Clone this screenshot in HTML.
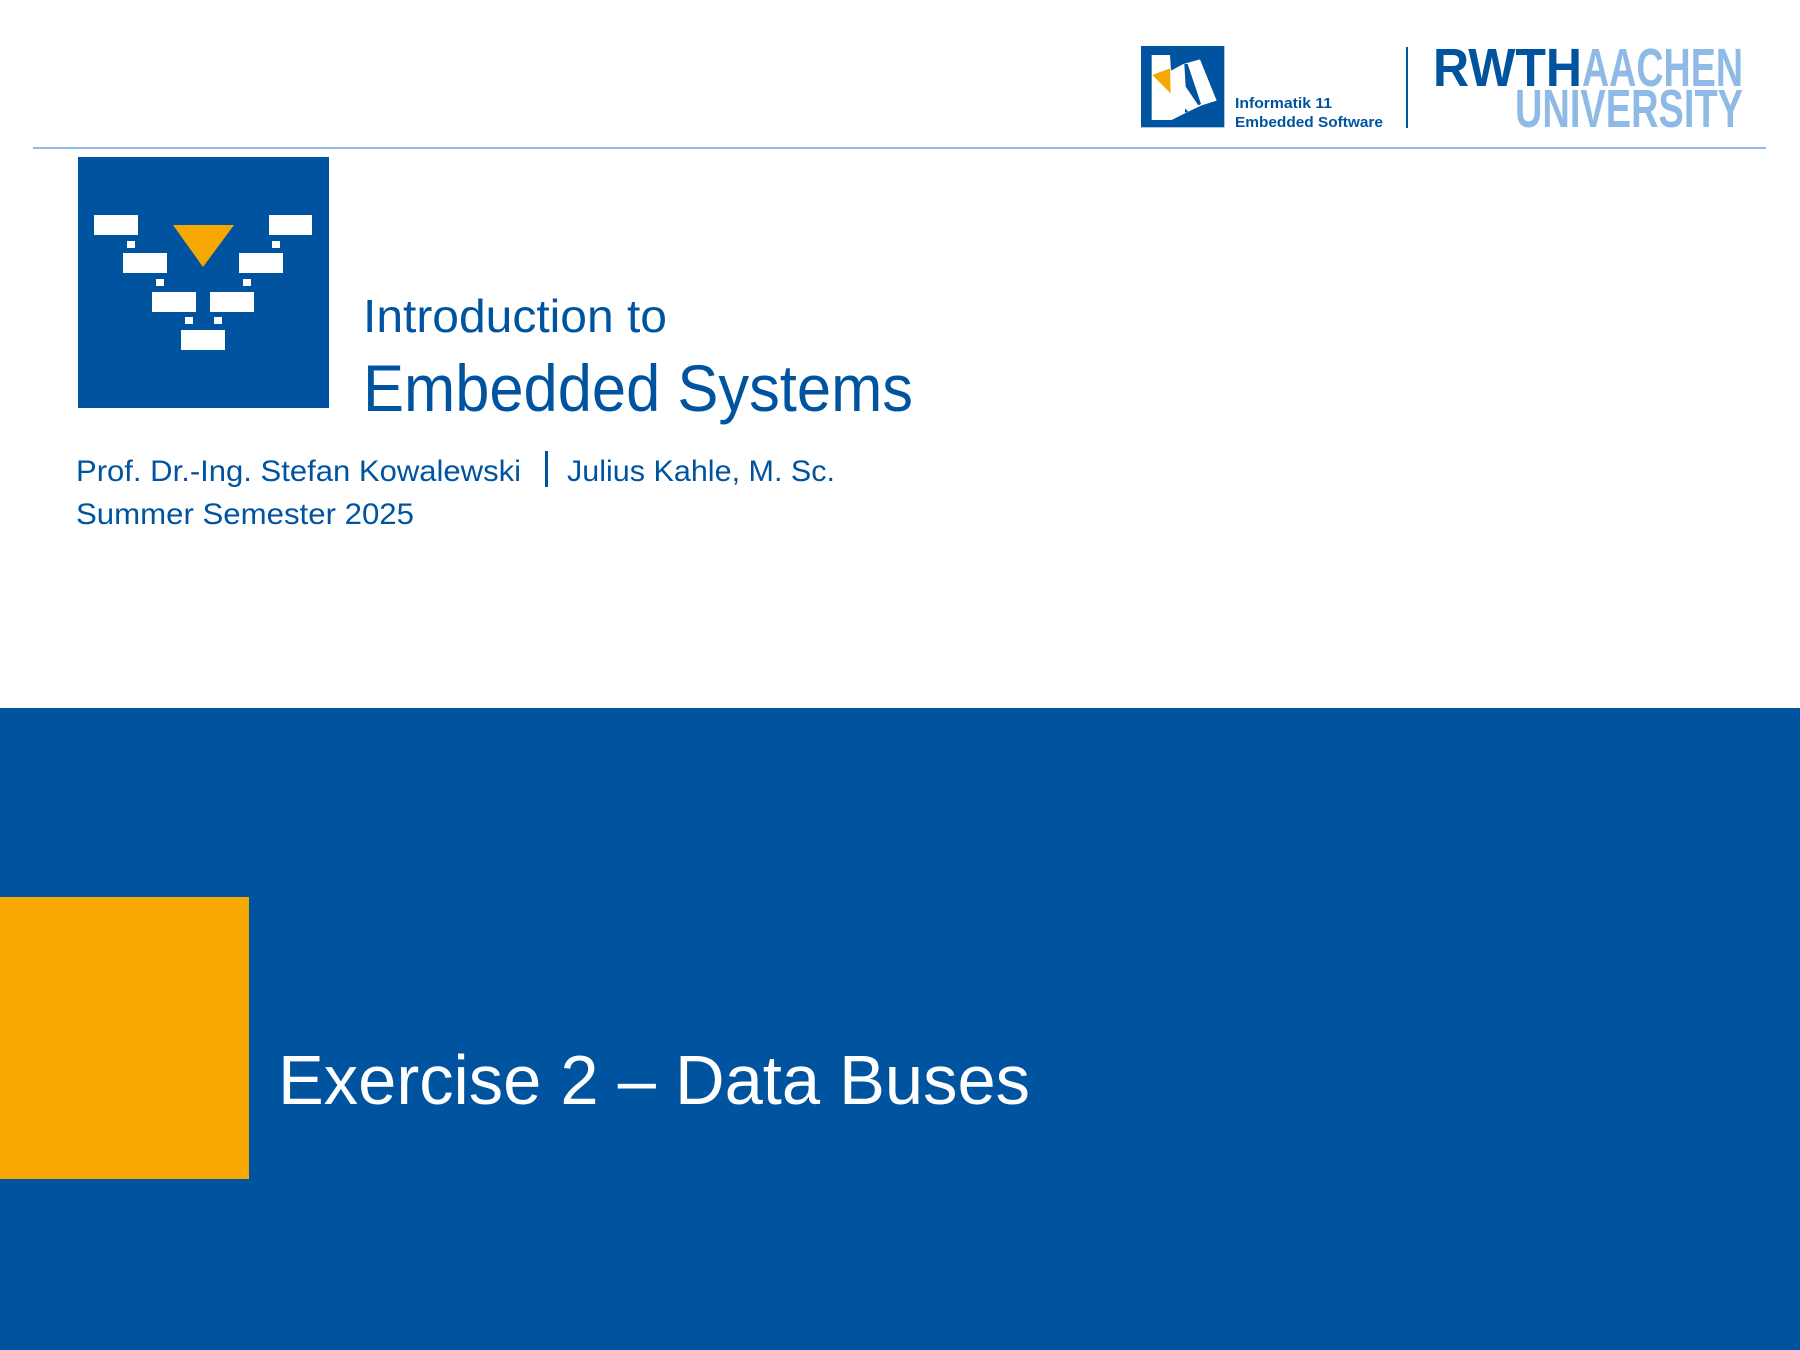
<!DOCTYPE html>
<html><head><meta charset="utf-8"><style>
html,body{margin:0;padding:0;background:#fff}
svg{display:block}
</style></head><body>
<svg width="1800" height="1350" viewBox="0 0 1800 1350" xmlns="http://www.w3.org/2000/svg">
<rect width="1800" height="1350" fill="#fff"/>
<!-- header line -->
<rect x="33" y="147" width="1733" height="2" fill="#8EBAE5"/>
<!-- Informatik logo -->
<g transform="translate(1135,40) scale(0.33333)">
<rect x="18" y="18" width="250" height="244" fill="#00549F"/>
<polygon points="50,45 105,45 108,92 145,72 195,58 245,182 200,196 160,215 110,240 50,240" fill="#fff"/>
<polygon points="148,72 158,72 198,192 190,196 152,140" fill="#00549F"/>
<polygon points="150,205 160,215 150,218" fill="#00549F"/>
<polygon points="52,105 105,85 107,160" fill="#F6A800"/>
</g>
<text x="1235" y="108" font-family="Liberation Sans, sans-serif" font-weight="bold" font-size="15" fill="#00549F" textLength="97" lengthAdjust="spacingAndGlyphs">Informatik 11</text>
<text x="1235" y="127" font-family="Liberation Sans, sans-serif" font-weight="bold" font-size="15" fill="#00549F" textLength="148" lengthAdjust="spacingAndGlyphs">Embedded Software</text>
<rect x="1406" y="47" width="2" height="81" fill="#00549F"/>
<text x="1433" y="86" font-family="Liberation Sans, sans-serif" font-weight="bold" font-size="54" fill="#00549F" textLength="149" lengthAdjust="spacingAndGlyphs">RWTH</text>
<text x="1582" y="86" font-family="Liberation Sans, sans-serif" font-weight="bold" font-size="54" fill="#8EBAE5" textLength="161" lengthAdjust="spacingAndGlyphs">AACHEN</text>
<text x="1515" y="127" font-family="Liberation Sans, sans-serif" font-weight="bold" font-size="54" fill="#8EBAE5" textLength="228" lengthAdjust="spacingAndGlyphs">UNIVERSITY</text>
<!-- big icon -->
<rect x="78" y="157" width="251" height="251" fill="#00549F"/>
<g fill="#fff">
<rect x="94" y="215" width="44" height="20"/>
<rect x="127" y="241" width="8" height="7"/>
<rect x="123" y="253" width="44" height="20"/>
<rect x="156" y="279" width="8" height="7"/>
<rect x="152" y="292" width="44" height="20"/>
<rect x="185" y="317" width="8" height="7"/>
<rect x="181" y="330" width="44" height="20"/>
<rect x="269" y="215" width="43" height="20"/>
<rect x="272" y="241" width="8" height="7"/>
<rect x="239" y="253" width="44" height="20"/>
<rect x="243" y="279" width="8" height="7"/>
<rect x="210" y="292" width="44" height="20"/>
<rect x="214" y="317" width="8" height="7"/>
</g>
<polygon points="173,225 234,225 203,267" fill="#F6A800"/>
<!-- titles -->
<g font-family="Liberation Sans, sans-serif" fill="#00549F">
<text x="363" y="332" font-size="46" textLength="304" lengthAdjust="spacingAndGlyphs">Introduction to</text>
<text x="363" y="411" font-size="66" textLength="550" lengthAdjust="spacingAndGlyphs">Embedded Systems</text>
<text x="76" y="481" font-size="30" textLength="445" lengthAdjust="spacingAndGlyphs">Prof. Dr.-Ing. Stefan Kowalewski</text>
<text x="567" y="481" font-size="30" textLength="268" lengthAdjust="spacingAndGlyphs">Julius Kahle, M. Sc.</text>
<text x="76" y="524" font-size="30" textLength="338" lengthAdjust="spacingAndGlyphs">Summer Semester 2025</text>
</g>
<rect x="545" y="451" width="3" height="36" fill="#00549F"/>
<!-- band -->
<rect x="0" y="708" width="1800" height="642" fill="#00549F"/>
<rect x="0" y="897" width="249" height="282" fill="#F6A800"/>
<text x="278" y="1104" font-family="Liberation Sans, sans-serif" font-size="70" fill="#fff" textLength="752" lengthAdjust="spacingAndGlyphs">Exercise 2 – Data Buses</text>
</svg>
</body></html>
